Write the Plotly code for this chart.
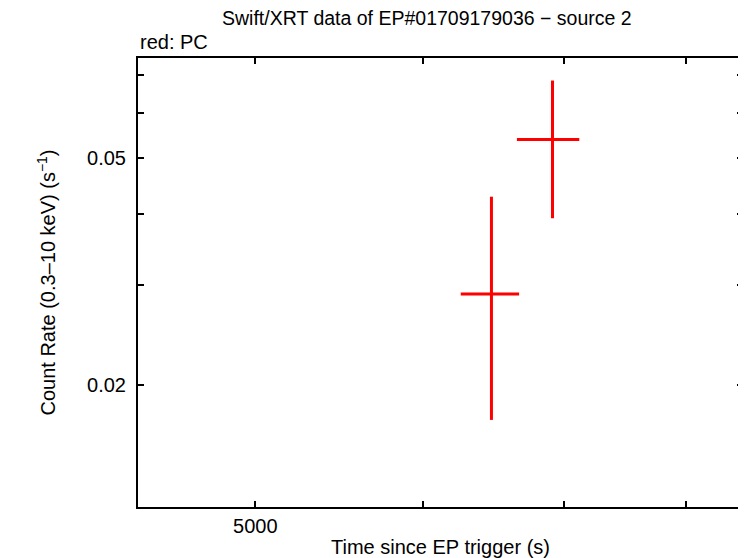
import plotly.graph_objects as go

# Data
time_s = [6468, 6913]
time_err_lo = [213, 263]
time_err_hi = [198, 205]
rate = [0.02890, 0.05393]
rate_err_lo = [0.01152, 0.01468]
rate_err_hi = [0.01392, 0.01453]

x_tickvals = [5000, 6000, 7000, 8000]
x_ticktext = ["5000", "", "", ""]
y_tickvals = [0.02, 0.03, 0.04, 0.05, 0.06, 0.07]
y_ticktext = ["0.02", "", "", "0.05", "", ""]

FONT = "Liberation Sans, Arial, sans-serif"

fig = go.Figure()
fig.add_trace(go.Scatter(
    x=time_s, y=rate, mode="markers",
    marker=dict(size=1, color="rgba(0,0,0,0)"),
    error_x=dict(type="data", symmetric=False, array=time_err_hi, arrayminus=time_err_lo,
                 color="#ff0000", thickness=3, width=0),
    error_y=dict(type="data", symmetric=False, array=rate_err_hi, arrayminus=rate_err_lo,
                 color="#ff0000", thickness=3, width=0),
    showlegend=False, hoverinfo="skip",
))

axis_common = dict(
    showline=True, linecolor="black", linewidth=2, mirror="allticks",
    ticks="inside", ticklen=6, tickwidth=2, tickcolor="black",
    showgrid=False, zeroline=False,
    tickfont=dict(family=FONT, size=20, color="black"),
)

fig.update_xaxes(type="log", range=[3.64342, 3.92987],
                 tickvals=x_tickvals, ticktext=x_ticktext,
                 title=dict(text="Time since EP trigger (s)", font=dict(family=FONT, size=20, color="black"), standoff=6),
                 **axis_common)
fig.update_yaxes(type="log", range=[-1.91273, -1.12506],
                 tickvals=y_tickvals, ticktext=y_ticktext, ticklabelstandoff=6,
                 title=dict(text="Count Rate (0.3\u201310 keV) (s<sup>\u22121</sup>)", font=dict(family=FONT, size=20, color="black"), standoff=26),
                 **axis_common)

fig.update_layout(
    width=738, height=550,
    margin=dict(l=130, r=3, t=50, b=51, autoexpand=False),
    paper_bgcolor="white", plot_bgcolor="white",
    font=dict(family=FONT, color="black"),
    annotations=[
        dict(text="Swift/XRT data of EP#01709179036 \u2212 source 2", xref="paper", yref="paper",
             x=0.478, y=1.0, yshift=40, xanchor="center", yanchor="middle", showarrow=False,
             font=dict(family=FONT, size=19.5, color="black")),
        dict(text="red: PC", xref="paper", yref="paper",
             x=0.0, y=1.0, yshift=16, xanchor="left", yanchor="middle", showarrow=False,
             font=dict(family=FONT, size=20, color="black")),
    ],
)

fig.write_html("out.html")
